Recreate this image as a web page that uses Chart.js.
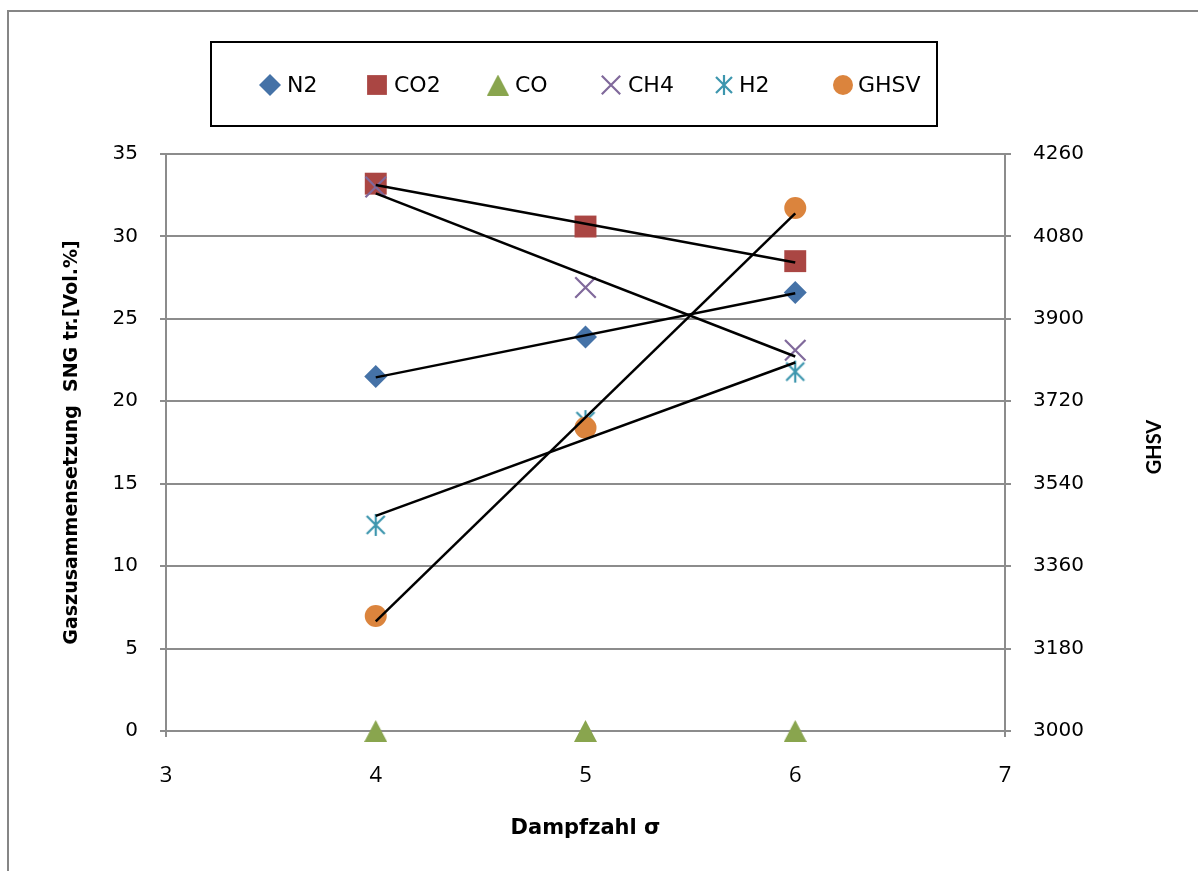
<!DOCTYPE html>
<html><head><meta charset="utf-8">
<script src="https://cdn.jsdelivr.net/npm/chart.js@4.4.0/dist/chart.umd.min.js"></script>
<style>html,body{margin:0;padding:0;background:#fff;}#wrap{position:relative;width:1198px;height:871px;}</style>
</head><body><div id="wrap"><canvas id="c" width="1198" height="871"></canvas></div>
<script>
// ---- data ----
const dampfzahl = [4, 5, 6];
const n2   = [21.5, 23.9, 26.6];
const co2  = [33.2, 30.6, 28.5];
const co   = [0, 0, 0];
const ch4  = [33.0, 26.9, 23.1];
const h2   = [12.5, 18.8, 21.8];
const ghsv = [3251, 3662, 4142];
const xTicks = [3, 4, 5, 6, 7];
const leftTicks = [0, 5, 10, 15, 20, 25, 30, 35];
const rightTicks = [3000, 3180, 3360, 3540, 3720, 3900, 4080, 4260];
const seriesNames = ['N2', 'CO2', 'CO', 'CH4', 'H2', 'GHSV'];

// ---- helpers ----
function pts(xs, ys) { return xs.map((x, i) => ({x: x, y: ys[i]})); }
function linFit(xs, ys) {
  const n = xs.length;
  const mx = xs.reduce((a, b) => a + b, 0) / n;
  const my = ys.reduce((a, b) => a + b, 0) / n;
  let sxy = 0, sxx = 0;
  for (let i = 0; i < n; i++) { sxy += (xs[i] - mx) * (ys[i] - my); sxx += (xs[i] - mx) * (xs[i] - mx); }
  const b = sxy / sxx, a = my - b * mx;
  const x0 = xs[0], x1 = xs[n - 1];
  return [{x: x0, y: a + b * x0}, {x: x1, y: a + b * x1}];
}
function asterisk(color, s) {
  const c = document.createElement('canvas');
  c.width = s; c.height = s;
  const g = c.getContext('2d');
  g.strokeStyle = color; g.lineWidth = 2.2; g.lineCap = 'butt';
  const e = s - 3, m = s / 2;
  g.beginPath();
  g.moveTo(3, 3); g.lineTo(e, e);
  g.moveTo(e, 3); g.lineTo(3, e);
  g.moveTo(m, 1); g.lineTo(m, s - 1);
  g.stroke();
  return c;
}
function triangleImg(color, w, h) {
  const c = document.createElement('canvas');
  c.width = w; c.height = h;
  const g = c.getContext('2d');
  g.fillStyle = color;
  g.beginPath();
  g.moveTo(w / 2, 0); g.lineTo(w, h); g.lineTo(0, h); g.closePath();
  g.fill();
  return c;
}

const C = {
  n2: '#4572A7', co2: '#AA4643', co: '#89A54E', ch4: '#80699B', h2: '#3D96AE', ghsv: '#DB843D'
};

function markerDs(label, ys, color, style, radius, order, axis, extra) {
  return Object.assign({
    label: label,
    data: pts(dampfzahl, ys),
    backgroundColor: color,
    borderColor: color,
    pointStyle: style,
    pointRadius: radius,
    pointHoverRadius: radius,
    pointBorderWidth: 0,
    showLine: false,
    order: order,
    clip: false,
    yAxisID: axis
  }, extra || {});
}
function trendDs(ys, axis) {
  return {
    label: '_trend',
    data: linFit(dampfzahl, ys),
    showLine: true,
    borderColor: '#000',
    borderWidth: 2.5,
    pointRadius: 0,
    pointHoverRadius: 0,
    fill: false,
    order: 0,
    clip: false,
    yAxisID: axis
  };
}

const legendStyles = [
  {style: 'rectRot', r: 11},
  {style: 'rect', r: 14},
  {style: triangleImg(C.co, 22, 21), r: 11},
  {style: 'crossRot', r: 13},
  {style: asterisk(C.h2, 22), r: 11},
  {style: 'circle', r: 10}
];

const datasets = [
  markerDs(seriesNames[0], n2, C.n2, 'rectRot', 11.5, 6, 'y'),
  markerDs(seriesNames[1], co2, C.co2, 'rect', 15.5, 5, 'y'),
  markerDs(seriesNames[2], co, C.co, triangleImg(C.co, 23, 22), 13, 4, 'y'),
  markerDs(seriesNames[3], ch4, C.ch4, 'crossRot', 14.5, 3, 'y', {pointBorderWidth: 2.2}),
  markerDs(seriesNames[4], h2, C.h2, asterisk(C.h2, 24), 11, 2, 'y'),
  markerDs(seriesNames[5], ghsv, C.ghsv, 'circle', 11, 1, 'y1'),
  trendDs(n2, 'y'), trendDs(co2, 'y'), trendDs(ch4, 'y'), trendDs(h2, 'y'),
  trendDs(ghsv, 'y1')
];

const GRID = '#8c8c8c';

const framePlugin = {
  id: 'frame',
  beforeDraw(chart) {
    const ctx = chart.ctx;
    ctx.save();
    ctx.fillStyle = '#fff';
    ctx.fillRect(0, 0, chart.width, chart.height);
    ctx.strokeStyle = '#868686';
    ctx.lineWidth = 2;
    ctx.beginPath();
    ctx.moveTo(8, chart.height); ctx.lineTo(8, 11); ctx.lineTo(chart.width, 11);
    ctx.stroke();
    ctx.restore();
  }
};

const legendPlugin = {
  id: 'excelLegend',
  afterDraw(chart) {
    const ctx = chart.ctx;
    ctx.save();
    ctx.strokeStyle = '#000';
    ctx.lineWidth = 2;
    ctx.strokeRect(211, 42, 726, 84);
    const markerX = [270, 377, 498, 611, 724, 843];
    const textX = [287, 394, 515, 628, 739, 858];
    const yC = 85;
    ctx.font = '22px "DejaVu Sans"';
    ctx.textBaseline = 'middle';
    ctx.textAlign = 'left';
    for (let i = 0; i < 6; i++) {
      const ds = chart.data.datasets[i];
      ctx.save();
      ctx.fillStyle = ds.backgroundColor;
      ctx.strokeStyle = ds.borderColor;
      ctx.lineWidth = ds.pointBorderWidth;
      Chart.helpers.drawPoint(ctx, {
        pointStyle: legendStyles[i].style,
        radius: legendStyles[i].r,
        rotation: 0,
        borderWidth: ds.pointBorderWidth
      }, markerX[i], yC);
      ctx.restore();
      ctx.fillStyle = '#000';
      ctx.fillText(ds.label, textX[i], yC + 1);
    }
    // right axis title (reads bottom-to-top)
    ctx.translate(1155, 447);
    ctx.rotate(-Math.PI / 2);
    ctx.font = 'bold 20px Lato';
    ctx.textAlign = 'center';
    ctx.fillText('GHSV', 0, 0);
    ctx.restore();
  }
};

const plain = v => String(v);

new Chart(document.getElementById('c'), {
  type: 'scatter',
  data: { datasets: datasets },
  plugins: [framePlugin, legendPlugin],
  options: {
    responsive: false,
    animation: false,
    events: [],
    layout: { padding: { top: 154, left: 0, right: 0, bottom: 0 } },
    plugins: { legend: { display: false }, tooltip: { enabled: false } },
    scales: {
      x: {
        type: 'linear', position: 'bottom',
        min: xTicks[0], max: xTicks[xTicks.length - 1],
        ticks: { stepSize: xTicks[1] - xTicks[0], color: '#000', font: { family: 'Open Sans', size: 22 }, padding: 26, callback: plain },
        grid: { drawOnChartArea: false, drawTicks: true, tickLength: 6, color: GRID, lineWidth: 2 },
        border: { display: true, color: GRID, width: 2 },
        title: { display: true, text: 'Dampfzahl σ', color: '#000', font: { family: 'DejaVu Sans', size: 21, weight: 'bold' }, padding: { top: 0, bottom: 30 } },
        afterFit(s) { s.height = 140; }
      },
      y: {
        type: 'linear', position: 'left',
        min: leftTicks[0], max: leftTicks[leftTicks.length - 1],
        ticks: { stepSize: leftTicks[1] - leftTicks[0], color: '#000', font: { family: 'DejaVu Sans', size: 20 }, padding: 22, callback: plain },
        grid: { drawTicks: true, tickLength: 6, color: GRID, lineWidth: 2 },
        border: { display: true, color: GRID, width: 2 },
        title: { display: true, text: 'Gaszusammensetzung  SNG tr.[Vol.%]', color: '#000', font: { family: 'DejaVu Sans', size: 19, weight: 'bold' }, padding: { top: 61, bottom: 0 } },
        afterFit(s) { s.width = 166; }
      },
      y1: {
        type: 'linear', position: 'right',
        min: rightTicks[0], max: rightTicks[rightTicks.length - 1],
        ticks: { stepSize: rightTicks[1] - rightTicks[0], color: '#000', font: { family: 'DejaVu Sans', size: 20 }, padding: 22, callback: plain },
        grid: { drawOnChartArea: false, drawTicks: true, tickLength: 6, color: GRID, lineWidth: 2 },
        border: { display: true, color: GRID, width: 2 },
        afterFit(s) { s.width = 193; }
      }
    }
  }
});
</script></body></html>
